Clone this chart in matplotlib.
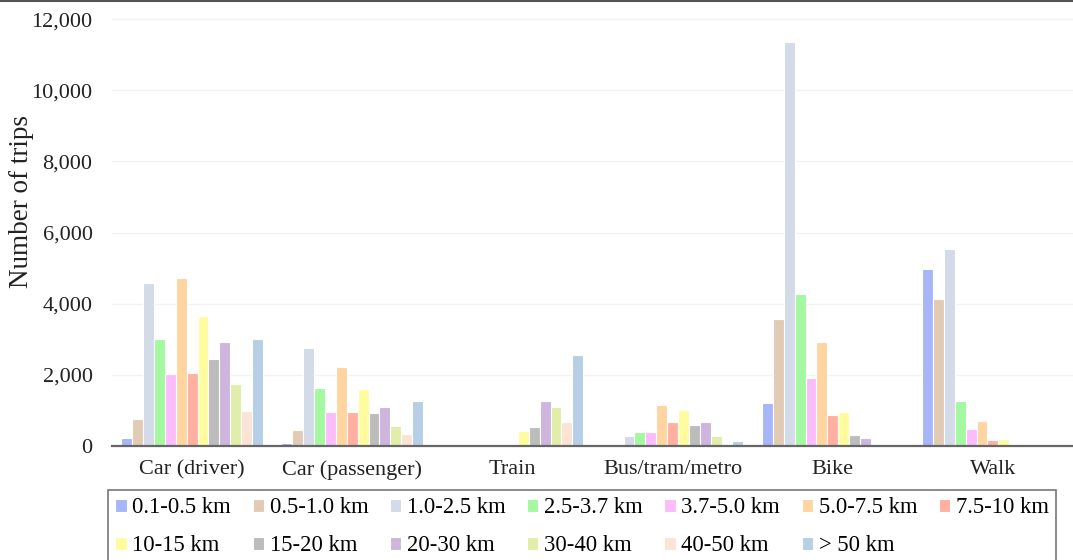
import matplotlib.pyplot as plt
import matplotlib.lines as mlines
import numpy as np

plt.rcParams['font.family'] = ['Liberation Serif', 'DejaVu Serif']

# data
modes = ["Car (driver)", "Car (passenger)", "Train", "Bus/tram/metro", "Bike", "Walk"]
bins = ["0.1-0.5 km", "0.5-1.0 km", "1.0-2.5 km", "2.5-3.7 km", "3.7-5.0 km",
        "5.0-7.5 km", "7.5-10 km", "10-15 km", "15-20 km", "20-30 km",
        "30-40 km", "40-50 km", "> 50 km"]
car_driver = [235, 770, 4570, 3010, 2025, 4720, 2050, 3650, 2445, 2920, 1735, 985, 3010]
car_passenger = [85, 460, 2765, 1630, 955, 2230, 955, 1590, 915, 1095, 560, 345, 1275]
train = [5, 10, 15, 10, 10, 55, 55, 420, 525, 1265, 1095, 665, 2550]
bus = [5, 10, 270, 385, 385, 1160, 665, 1010, 590, 665, 270, 55, 130]
bike = [1200, 3580, 11350, 4260, 1910, 2910, 870, 945, 310, 235, 55, 55, 55]
walk = [4975, 4120, 5535, 1265, 480, 700, 170, 195, 15, 10, 10, 10, 10]
colors = ["#a6b6f8", "#e2cbb5", "#d3dbe8", "#a3f8a0", "#fbbcfb", "#fed5a0",
          "#ffb0a0", "#fffca0", "#bcbcbc", "#cdb5dd", "#e0eeaa", "#fbe3d6", "#b6cfe4"]

table = np.array([car_driver, car_passenger, train, bus, bike, walk])

fig = plt.figure(figsize=(10.73, 5.6), dpi=100)
ax = fig.add_axes([112/1073, 1-446/560, 961/1073, 444/560])

x = np.arange(len(modes))
w = 0.068
bars = []
for j in range(len(bins)):
    b = ax.bar(x + (j - 6) * w, table[:, j], width=w, color=colors[j],
               edgecolor="white", linewidth=0.8, label=bins[j], zorder=3)
    bars.append(b)

ax.set_xlim(-0.5, 5.5)
ax.set_ylim(0, 12480)
ax.set_yticks(range(0, 12001, 2000))
ax.set_yticklabels([f"{v:,}" for v in range(0, 12001, 2000)])
ax.set_xticks(x)
ax.set_xticklabels(modes)
ax.tick_params(axis="both", length=0, labelsize=16, colors="#222222")
ax.tick_params(axis="y", pad=14)
ax.tick_params(axis="x", pad=10)
ax.grid(axis="y", color="#f2f2f2", linewidth=1, zorder=0)
for s in ["top", "right", "left"]:
    ax.spines[s].set_visible(False)
ax.spines["bottom"].set_color("#666666")
ax.spines["bottom"].set_linewidth(1.6)
ax.spines["bottom"].set_zorder(4)
ax.set_ylabel("Number of trips", fontsize=19.5, color="#222222")
ax.yaxis.set_label_coords(-0.081, 0.55)

# legend fills column by column, so reorder to read row by row
order = [0, 7, 1, 8, 2, 9, 3, 10, 4, 11, 5, 12, 6]
leg = fig.legend([bars[i] for i in order], [bins[i] for i in order],
                 loc="upper left", bbox_to_anchor=(108/1073, 1-490/560),
                 borderaxespad=0, ncol=7, fontsize=16.3, frameon=True,
                 fancybox=False, handlelength=0.5, handleheight=0.5,
                 handletextpad=0.25, columnspacing=0.95, borderpad=0.33,
                 labelspacing=0.74)
leg.get_frame().set_edgecolor("#555555")
leg.get_frame().set_linewidth(1.2)

fig.add_artist(mlines.Line2D([0, 1], [0.998, 0.998], color="#555555",
                             linewidth=1.5, transform=fig.transFigure))

fig.savefig("out.png", dpi=100)
